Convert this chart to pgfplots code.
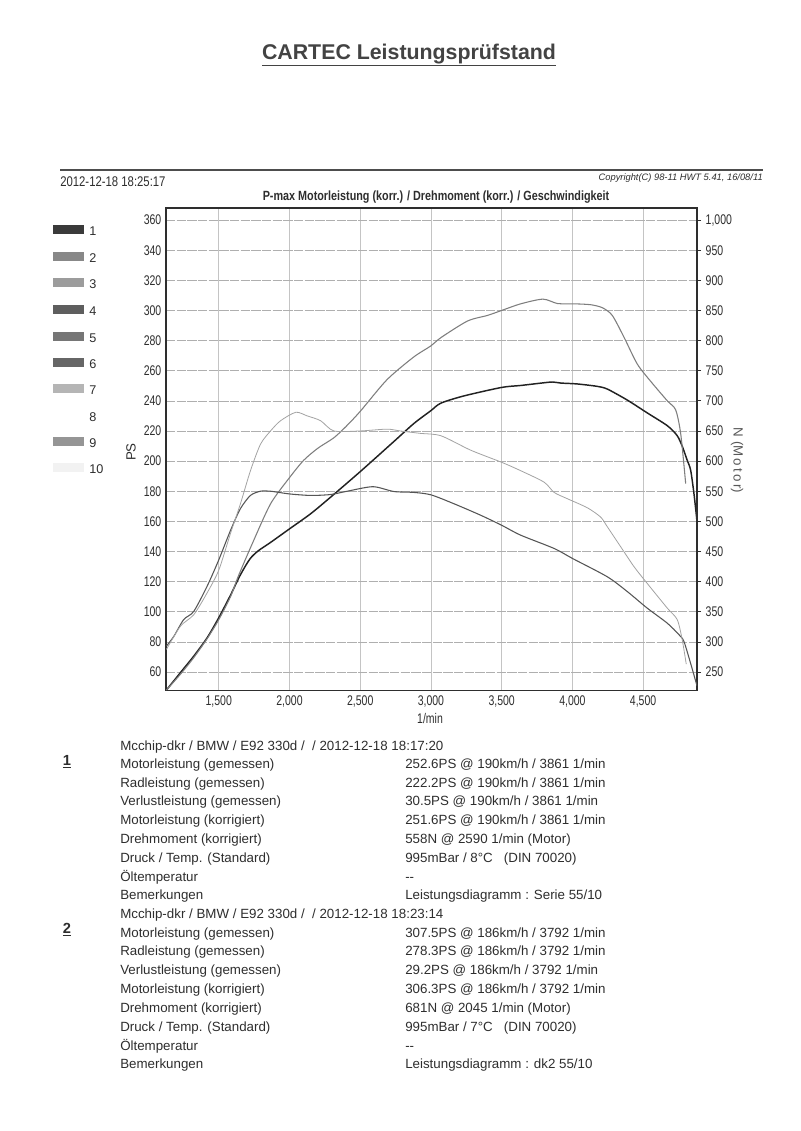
\documentclass[border=0pt]{standalone}
\usepackage{fontspec}
\setmainfont{Liberation Sans}
\newfontfamily\narrowfont[FakeStretch=0.81]{Liberation Sans}
\newfontfamily\tickfont[FakeStretch=0.75]{Liberation Sans}
\usepackage{pgfplots}
\pgfplotsset{compat=1.18}
\definecolor{ink}{HTML}{2E2E2E}
\definecolor{pA}{HTML}{222222}
\definecolor{pB}{HTML}{7E7E7E}
\definecolor{tA}{HTML}{555555}
\definecolor{tB}{HTML}{A3A3A3}
\definecolor{gridc}{HTML}{C4C4C4}
\definecolor{gridh}{HTML}{AFAFAF}
\begin{document}
\begin{tikzpicture}
\begin{scope}[x=0.75pt,y=-0.75pt]
\fill[white] (0,0) rectangle (800,1131);
\path[use as bounding box] (0,0) rectangle (800,1131);
\node[font=\bfseries\fontsize{16}{19}\selectfont, text=ink!90] at (409,55) {\underline{CARTEC Leistungsprüfstand}};
\draw[line width=1.6pt, ink!85] (60,170) -- (763,170);
\node[anchor=west, inner sep=0pt, font=\narrowfont\fontsize{10.5}{12}\selectfont, text=ink] at (60,182) {2012-12-18 18:25:17};
\node[anchor=east, inner sep=0pt, font=\itshape\fontsize{7}{8}\selectfont, text=ink] at (763,178) {Copyright(C) 98-11 HWT 5.41, 16/08/11};
\node[font=\narrowfont\bfseries\fontsize{10}{12}\selectfont, text=ink] at (436,197) {P-max Motorleistung (korr.) / Drehmoment (korr.) / Geschwindigkeit};
% legend
\foreach \yy/\cc/\lab in {229/3A3A3A/1, 256/888888/2, 282/9C9C9C/3, 309/5E5E5E/4, 336/767676/5, 362/666666/6, 388/B5B5B5/7, 415/FFFFFF/8, 441/959595/9, 467/F2F2F2/10}{
  \definecolor{lc}{HTML}{\cc}
  \fill[lc] (53,\yy-4.5) rectangle (84,\yy+4.5);
  \node[anchor=west, inner sep=0pt, font=\fontsize{9.5}{11}\selectfont, text=ink] at (89,\yy+2) {\lab};
}
\node[rotate=90, font=\fontsize{10}{12}\selectfont, text=ink] at (131,452) {PS};
\node[rotate=-90, font=\fontsize{10}{12}\selectfont, text=ink!80] at (737,460) {N\,\,(M\,o\,t\,o\,r)};
\node[font=\tickfont\fontsize{10.5}{12}\selectfont, text=ink] at (430,718) {1/min};
% data blocks
\node[anchor=base, font=\bfseries\fontsize{11}{13}\selectfont, text=ink] at (67,765) {\underline{1}};
\node[anchor=base, font=\bfseries\fontsize{11}{13}\selectfont, text=ink] at (67,933) {\underline{2}};
\foreach \yy/\ltxt/\rtxt in {
 763/{Motorleistung (gemessen)}/{252.6PS @ 190km/h / 3861 1/min},
 782/{Radleistung (gemessen)}/{222.2PS @ 190km/h / 3861 1/min},
 800/{Verlustleistung (gemessen)}/{30.5PS @ 190km/h / 3861 1/min},
 819/{Motorleistung (korrigiert)}/{251.6PS @ 190km/h / 3861 1/min},
 838/{Drehmoment (korrigiert)}/{558N @ 2590 1/min (Motor)},
 857/{Druck / Temp. (Standard)}/{995mBar / 8°C \ \ (DIN 70020)},
 876/{Öltemperatur}/{{-}{-}},
 894/{Bemerkungen}/{Leistungsdiagramm : Serie 55/10},
 932/{Motorleistung (gemessen)}/{307.5PS @ 186km/h / 3792 1/min},
 950/{Radleistung (gemessen)}/{278.3PS @ 186km/h / 3792 1/min},
 969/{Verlustleistung (gemessen)}/{29.2PS @ 186km/h / 3792 1/min},
 988/{Motorleistung (korrigiert)}/{306.3PS @ 186km/h / 3792 1/min},
 1007/{Drehmoment (korrigiert)}/{681N @ 2045 1/min (Motor)},
 1026/{Druck / Temp. (Standard)}/{995mBar / 7°C \ \ (DIN 70020)},
 1045/{Öltemperatur}/{{-}{-}},
 1063/{Bemerkungen}/{Leistungsdiagramm : dk2 55/10}}{
 \node[anchor=base west, inner sep=0pt, font=\fontsize{10}{12}\selectfont, text=ink] at (120,\yy+5) {\ltxt};
 \node[anchor=base west, inner sep=0pt, font=\fontsize{10}{12}\selectfont, text=ink] at (405,\yy+5) {\rtxt};
}
\node[anchor=base west, inner sep=0pt, font=\fontsize{10}{12}\selectfont, text=ink] at (120,750) {Mcchip-dkr / BMW / E92 330d /\ \ / 2012-12-18 18:17:20};
\node[anchor=base west, inner sep=0pt, font=\fontsize{10}{12}\selectfont, text=ink] at (120,918) {Mcchip-dkr / BMW / E92 330d /\ \ / 2012-12-18 18:23:14};
\end{scope}

\begin{axis}[
  at={(124.5pt,-518pt)}, anchor=south west,
  width=398.25pt, height=362pt, scale only axis,
  xmin=1127, xmax=4881, ymin=47.6, ymax=368,
  xtick={1500,2000,...,4500}, ytick={60,80,...,360},
  /pgf/number format/assume math mode=true,
  /pgf/number format/1000 sep={,},
  ticklabel style={font=\tickfont\fontsize{10.5}{12}\selectfont, text=ink},
  xmajorgrids, ymajorgrids,
  x grid style={gridc, line width=0.5pt},
  y grid style={gridh, line width=0.45pt, dash pattern=on 7pt off 1pt},
  major tick length=0pt,
  axis line style={ink, line width=0.9pt},
  clip=true,
]
\addplot[pA, line width=1.1pt, smooth, tension=0.45] coordinates {
(1130,48) (1229,59.6) (1323,70.5) (1417,82.6) (1500,96) (1583,111) (1653,124.5) (1720,135) (1780,140.5) (1866,146) (2000,155) (2149,165) (2290,176) (2500,193) (2738,213) (2880,225) (3000,233.5) (3071,238.5) (3235,243.3) (3500,248.9) (3635,250.2) (3800,252) (3861,252.5) (3918,251.8) (4035,251.2) (4176,249.6) (4247,247.8) (4388,240.5) (4529,232) (4671,223.5) (4740,217) (4776,210) (4810,201) (4836,194) (4860,178) (4881,160)
};
\addplot[pB, line width=0.8pt, smooth, tension=0.45] coordinates {
(1130,48) (1229,58.5) (1323,69.5) (1417,82) (1500,94.7) (1583,110) (1640,124) (1736,145) (1866,171.6) (2000,189) (2100,200.5) (2200,208.5) (2314,215.5) (2400,223) (2500,233) (2689,254) (2877,269) (3000,276.5) (3071,282) (3259,293) (3400,296.7) (3500,300) (3635,304.4) (3792,307.5) (3894,304.6) (4012,304.4) (4129,303.8) (4212,301.8) (4282,296.7) (4365,282.2) (4459,264.4) (4553,253) (4671,240) (4730,234) (4766,218) (4801,185)
};
\end{axis}

\begin{axis}[
  at={(124.5pt,-518pt)}, anchor=south west,
  width=398.25pt, height=362pt, scale only axis,
  xmin=1127, xmax=4881, ymin=219, ymax=1020,
  axis x line=none, axis y line*=right,
  ytick={250,300,...,1000},
  /pgf/number format/assume math mode=true,
  /pgf/number format/1000 sep={,},
  ticklabel style={font=\tickfont\fontsize{10.5}{12}\selectfont, text=ink},
  major tick length=3pt, tick style={ink, line width=0.5pt},
  tick align=outside,
  axis line style={ink, line width=0.9pt},
  clip=true,
]
\addplot[tA, line width=0.8pt, smooth, tension=0.45] coordinates {
(1130,293) (1182,309) (1252,337) (1323,350.5) (1417,392) (1500,436) (1583,485) (1653,521) (1724,543) (1795,550) (1866,550) (2000,545.5) (2149,543) (2290,544.5) (2408,550) (2590,557.5) (2738,549.5) (2880,548) (3000,544) (3165,529) (3353,510) (3500,493.5) (3635,477) (3871,455) (4000,438.5) (4247,408) (4388,383.5) (4529,356) (4671,331) (4753,312) (4788,301) (4835,265) (4881,227)
};
\addplot[tB, line width=0.6pt, smooth, tension=0.45] coordinates {
(1130,287.5) (1229,326) (1323,345) (1417,381) (1500,419) (1583,480) (1653,529) (1724,584) (1795,628) (1866,650) (1937,667) (2045,681) (2125,675) (2220,667) (2314,650) (2500,650) (2689,653) (2783,650) (2925,646) (3071,642) (3282,618) (3500,598) (3635,584) (3800,565) (3871,548) (3965,537.5) (4106,522.5) (4200,507) (4247,491) (4341,458) (4435,425) (4529,397) (4671,356) (4741,337) (4776,304) (4805,263)
};
\end{axis}
\end{tikzpicture}
\end{document}
